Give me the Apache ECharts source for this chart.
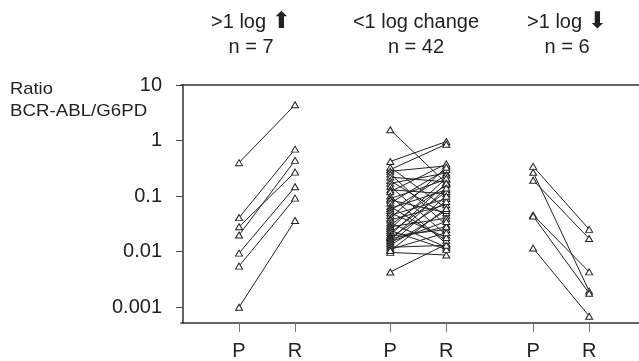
<!DOCTYPE html>
<html><head><meta charset="utf-8">
<script src="https://cdn.jsdelivr.net/npm/echarts@6/dist/echarts.min.js"></script>
<style>html,body{margin:0;padding:0;background:#fff}#c{width:639px;height:361px}</style>
</head><body><div id="c"></div>
<script>
const xPositions = [1, 2, 3.7, 4.7, 6.25, 7.25];
const xLabels = ['P', 'R', 'P', 'R', 'P', 'R'];
const yTickValues = [0.001, 0.01, 0.1, 1, 10];
const yTickLabels = ['0.001', '0.01', '0.1', '1', '10'];
const groupTitles = ['>1 log {a|⬆}', '<1 log change', '>1 log {a|⬇}'];
const groupCounts = ['n = 7', 'n = 42', 'n = 6'];
const titleCenters = [251, 416, 567];

const upP = [0.40, 0.041, 0.028, 0.0199, 0.0094, 0.0055, 0.0010];
const upR = [4.4, 0.70, 0.27, 0.44, 0.147, 0.092, 0.0365];

const midP = [1.56, 0.42, 0.30, 0.0043, 0.0097, 0.33, 0.28, 0.25, 0.22, 0.19, 0.17, 0.15, 0.13, 0.12, 0.10, 0.09, 0.085, 0.075, 0.065, 0.06, 0.055, 0.05, 0.045, 0.04, 0.037, 0.033, 0.03, 0.028, 0.026, 0.024, 0.022, 0.02, 0.019, 0.018, 0.017, 0.016, 0.015, 0.014, 0.013, 0.012, 0.011, 0.0105];
const midR = [0.17, 0.96, 0.86, 0.0136, 0.0087, 0.06, 0.35, 0.03, 0.18, 0.045, 0.26, 0.02, 0.11, 0.38, 0.014, 0.2, 0.05, 0.3, 0.016, 0.13, 0.24, 0.018, 0.09, 0.33, 0.07, 0.012, 0.16, 0.04, 0.21, 0.011, 0.12, 0.17, 0.025, 0.08, 0.028, 0.14, 0.035, 0.1, 0.055, 0.013, 0.022, 0.06];

const downP = [0.343, 0.268, 0.193, 0.0455, 0.0437, 0.0116];
const downR = [0.0252, 0.00195, 0.0172, 0.00433, 0.00179, 0.00069];

const FONT = "'Liberation Sans', Arial, sans-serif";
const groups = [[upP, upR, 0], [midP, midR, 2], [downP, downR, 4]];
const series = [];
groups.forEach(([P, R, k]) => {
  P.forEach((p, i) => {
    series.push({
      type: 'line',
      data: [[xPositions[k], p], [xPositions[k + 1], R[i]]],
      symbol: 'triangle',
      symbolSize: [7, 6],
      showSymbol: true,
      lineStyle: { color: '#222', width: 1 },
      itemStyle: { color: '#fff', borderColor: '#222', borderWidth: 1 },
      silent: true,
      animation: false
    });
  });
});

function nearestIdx(arr, v, log) {
  let best = 0, bd = Infinity;
  arr.forEach((t, i) => {
    const d = log ? Math.abs(Math.log10(t) - Math.log10(v)) : Math.abs(t - v);
    if (d < bd) { bd = d; best = i; }
  });
  return best;
}

const graphics = [];
groupTitles.forEach((t, i) => {
  graphics.push({
    type: 'text', x: titleCenters[i], y: 22,
    style: { text: t, fontSize: 20, fontFamily: FONT, fill: '#222', align: 'center', verticalAlign: 'middle',
      rich: { a: { fontSize: 23, fontFamily: 'DejaVu Sans', fill: '#222' } } }
  });
  graphics.push({
    type: 'text', x: titleCenters[i], y: 47,
    style: { text: groupCounts[i], fontSize: 20, fontFamily: FONT, fill: '#222', align: 'center', verticalAlign: 'middle' }
  });
});
graphics.push({ type: 'text', x: 10, y: 89, scaleX: 1.08,
  style: { text: 'Ratio', fontSize: 17, fontFamily: FONT, fill: '#222', verticalAlign: 'middle' } });
graphics.push({ type: 'text', x: 10, y: 111, scaleX: 1.1,
  style: { text: 'BCR-ABL/G6PD', fontSize: 17, fontFamily: FONT, fill: '#222', verticalAlign: 'middle' } });

const chart = echarts.init(document.getElementById('c'), null, { renderer: 'canvas' });
chart.setOption({
  animation: false,
  backgroundColor: '#fff',
  grid: { left: 181, right: 0, top: 85, bottom: 37 },
  xAxis: [{
    type: 'value', min: -0.036, max: 8.14, position: 'bottom',
    axisLine: { show: true, lineStyle: { color: '#333', width: 1.5 } },
    axisTick: { show: true, length: 9, customValues: xPositions, lineStyle: { color: '#777', width: 1 } },
    axisLabel: { customValues: xPositions, fontSize: 20, fontFamily: FONT, color: '#222', margin: 18,
      formatter: v => xLabels[nearestIdx(xPositions, v, false)] },
    splitLine: { show: false }
  }, {
    type: 'value', min: -0.036, max: 8.14, position: 'top',
    axisLine: { show: true, onZero: false, lineStyle: { color: '#333', width: 1.5 } },
    axisTick: { show: false }, axisLabel: { show: false }, splitLine: { show: false }
  }],
  yAxis: {
    type: 'log', logBase: 10, min: 0.00052, max: 10,
    axisLine: { show: true, lineStyle: { color: '#333', width: 1.5 } },
    axisTick: { show: true, length: 7, customValues: yTickValues, lineStyle: { color: '#444' } },
    axisLabel: { customValues: yTickValues, fontSize: 20, fontFamily: FONT, color: '#222', margin: 19,
      formatter: v => yTickLabels[nearestIdx(yTickValues, v, true)] },
    splitLine: { show: false }
  },
  graphic: graphics,
  series: series
});
</script>
</body></html>
